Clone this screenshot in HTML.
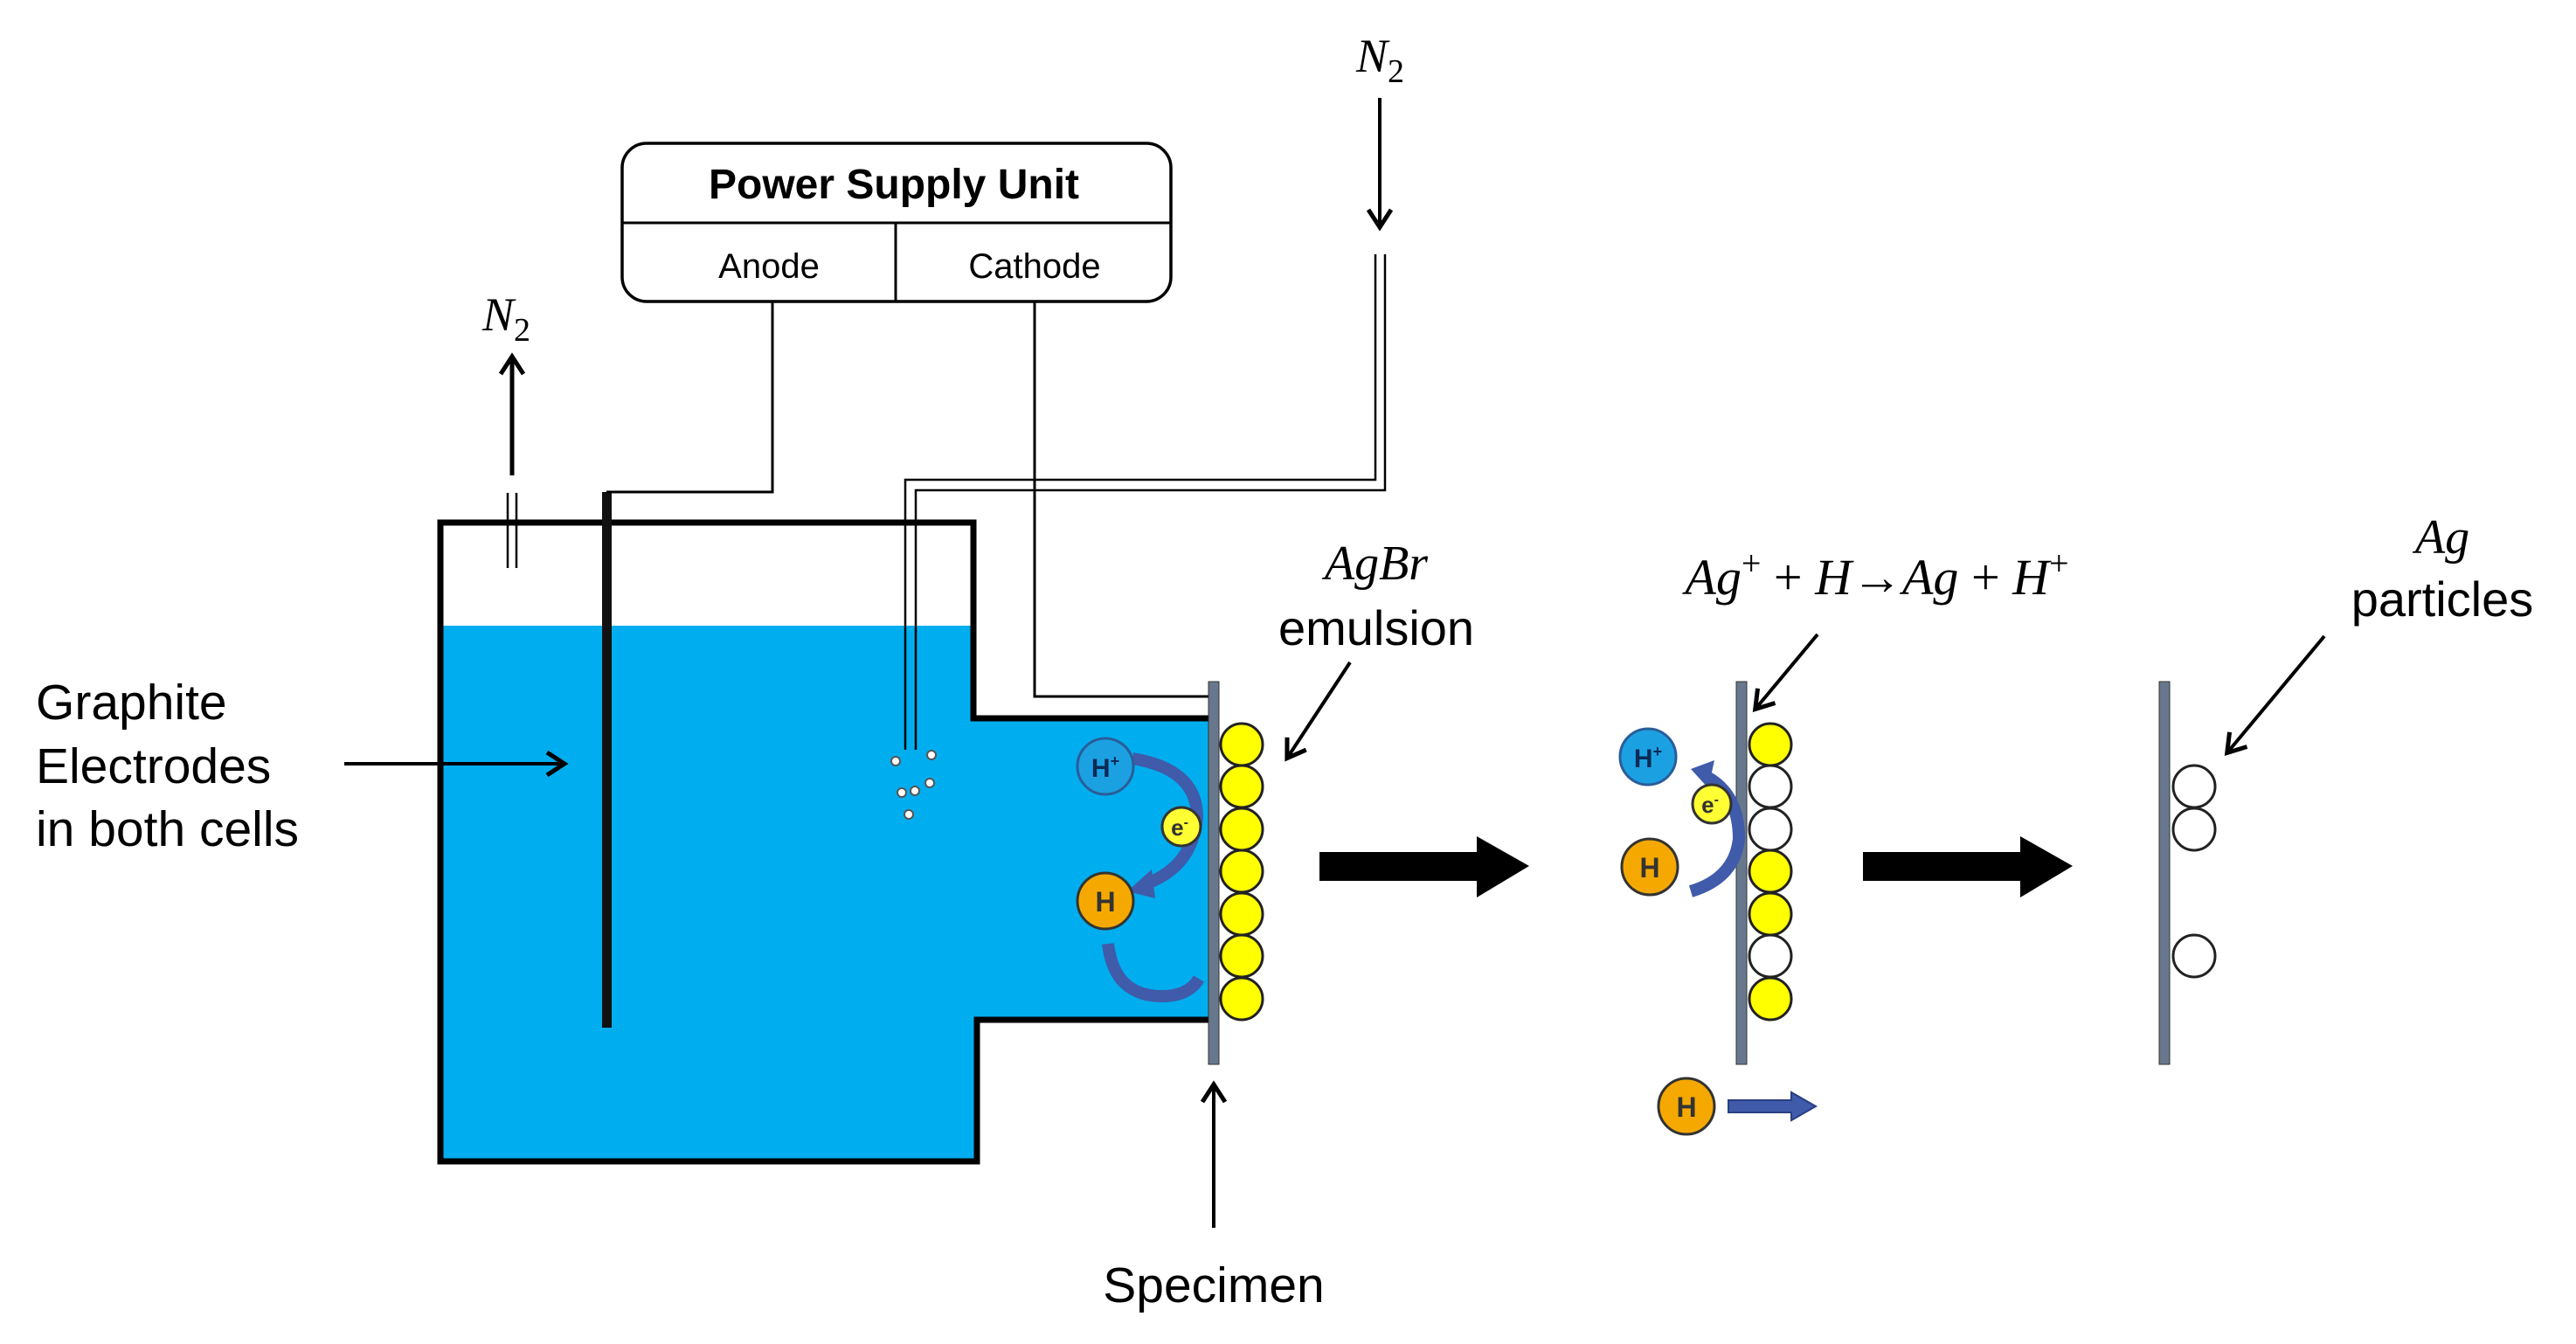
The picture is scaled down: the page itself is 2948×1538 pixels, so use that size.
<!DOCTYPE html>
<html><head><meta charset="utf-8"><style>
html,body{margin:0;padding:0;background:#fff;width:2948px;height:1538px;overflow:hidden}
svg{display:block}
.sans{font-family:"Liberation Sans",sans-serif}
.serif{font-family:"Liberation Serif",serif;font-style:italic}
</style></head><body>
<svg width="2948" height="1538" viewBox="0 0 2948 1538" xmlns="http://www.w3.org/2000/svg">
<defs>
<marker id="ab" markerWidth="30" markerHeight="30" refX="20" refY="15" orient="auto" markerUnits="userSpaceOnUse"><path d="M2,2 L22,15 L2,28" fill="none" stroke="#000" stroke-width="5"/></marker>
</defs>

<!-- water -->
<path d="M504,716 H1114 V822 H1385 V1167 H1118 V1329 H504 Z" fill="#00AEEF"/>
<!-- tank outline -->
<path d="M1385,822 H1114 V598 H504 V1329 H1118 V1167 H1385" fill="none" stroke="#000" stroke-width="7"/>

<!-- electrode -->
<rect x="689" y="563" width="11" height="613" fill="#111"/>
<!-- anode wire -->
<polyline points="694,563 884,563 884,345" fill="none" stroke="#000" stroke-width="3"/>
<!-- cathode wire -->
<polyline points="1184,345 1184,797 1385,797" fill="none" stroke="#000" stroke-width="3"/>

<!-- N2 inlet double tube -->
<polyline points="1574,291 1574,549 1036,549 1036,858" fill="none" stroke="#000" stroke-width="2.5"/>
<polyline points="1585,291 1585,561 1048,561 1048,858" fill="none" stroke="#000" stroke-width="2.5"/>
<line x1="1579" y1="112" x2="1579" y2="258" stroke="#000" stroke-width="4" marker-end="url(#ab)"/>
<text x="1552" y="82" class="serif" font-size="54">N<tspan font-size="38" dy="12" font-style="normal">2</tspan></text>

<!-- bubbles -->
<g fill="#fff" stroke="#555" stroke-width="2">
<circle cx="1025" cy="871" r="5"/><circle cx="1066" cy="864" r="5"/><circle cx="1032" cy="907" r="5"/><circle cx="1047" cy="905" r="5"/><circle cx="1064" cy="896" r="5"/><circle cx="1040" cy="932" r="5"/>
</g>

<!-- left N2 outlet -->
<line x1="581" y1="564" x2="581" y2="650" stroke="#000" stroke-width="2.5"/>
<line x1="591" y1="564" x2="591" y2="650" stroke="#000" stroke-width="2.5"/>
<line x1="586" y1="544" x2="586" y2="410" stroke="#000" stroke-width="5" marker-end="url(#ab)"/>
<text x="552" y="378" class="serif" font-size="54">N<tspan font-size="38" dy="12" font-style="normal">2</tspan></text>

<!-- PSU -->
<rect x="712" y="164" width="628" height="181" rx="28" fill="#fff" stroke="#000" stroke-width="3.5"/>
<line x1="712" y1="255" x2="1340" y2="255" stroke="#000" stroke-width="3"/>
<line x1="1025" y1="255" x2="1025" y2="345" stroke="#000" stroke-width="3"/>
<text x="1023" y="227" class="sans" font-size="48" font-weight="bold" text-anchor="middle">Power Supply Unit</text>
<text x="880" y="318" class="sans" font-size="40" text-anchor="middle">Anode</text>
<text x="1184" y="318" class="sans" font-size="40" text-anchor="middle">Cathode</text>

<!-- Graphite label -->
<text class="sans" font-size="57"><tspan x="41" y="823">Graphite</tspan><tspan x="41" y="896">Electrodes</tspan><tspan x="41" y="968">in both cells</tspan></text>
<line x1="394" y1="874" x2="644" y2="874" stroke="#000" stroke-width="4" marker-end="url(#ab)"/>

<!-- specimen plate 1 -->
<rect x="1383" y="780" width="12" height="438" fill="#68788C" stroke="#333" stroke-width="1"/>
<g stroke="#222" stroke-width="3" fill="#FFFF00">
<circle cx="1421" cy="852" r="24"/><circle cx="1421" cy="900" r="24"/><circle cx="1421" cy="949" r="24"/><circle cx="1421" cy="997" r="24"/><circle cx="1421" cy="1046" r="24"/><circle cx="1421" cy="1094" r="24"/><circle cx="1421" cy="1143" r="24"/>
</g>
<!-- curved arrows in cell -->
<g fill="none" stroke="#3F5BAA" stroke-width="14">
<path d="M1296,868 Q1370,880 1370,935 Q1365,990 1315,1010"/>
<path d="M1268,1080 Q1275,1140 1330,1140 Q1360,1140 1372,1120"/>
</g>
<path d="M1290,1020 L1318,995 L1322,1028 Z" fill="#3F5BAA"/>
<circle cx="1265" cy="877" r="32" fill="#1BA1E2" stroke="#2A5D9A" stroke-width="3"/>
<text x="1265" y="889" class="sans" font-size="30" text-anchor="middle" font-weight="bold" fill="#0b2a55">H<tspan font-size="18" dy="-12">+</tspan></text>
<circle cx="1352" cy="946" r="22" fill="#FFFF33" stroke="#333" stroke-width="3"/>
<text x="1350" y="956" class="sans" font-size="26" text-anchor="middle" font-weight="bold" fill="#333">e<tspan font-size="16" dy="-10">-</tspan></text>
<circle cx="1265" cy="1031" r="32" fill="#F5A900" stroke="#333" stroke-width="3"/>
<text x="1265" y="1043" class="sans" font-size="32" text-anchor="middle" font-weight="bold" fill="#333">H</text>

<!-- AgBr label -->
<text x="1575" y="663" class="serif" font-size="56" text-anchor="middle">AgBr</text>
<text x="1575" y="738" class="sans" font-size="56" text-anchor="middle">emulsion</text>
<line x1="1545" y1="758" x2="1474" y2="866" stroke="#000" stroke-width="4" marker-end="url(#ab)"/>

<!-- Specimen label -->
<line x1="1389" y1="1405" x2="1389" y2="1243" stroke="#000" stroke-width="4" marker-end="url(#ab)"/>
<text x="1389" y="1490" class="sans" font-size="57" text-anchor="middle">Specimen</text>

<!-- big arrows -->
<path d="M1510,975 H1690 V957 L1750,991 L1690,1027 V1008 H1510 Z" fill="#000"/>
<path d="M2132,975 H2312 V957 L2372,991 L2312,1027 V1008 H2132 Z" fill="#000"/>

<!-- middle plate -->
<rect x="1987" y="780" width="12" height="438" fill="#68788C" stroke="#333" stroke-width="1"/>
<g stroke="#222" stroke-width="3">
<circle cx="2026" cy="852" r="24" fill="#FFFF00"/><circle cx="2026" cy="900" r="24" fill="#fff"/><circle cx="2026" cy="949" r="24" fill="#fff"/><circle cx="2026" cy="997" r="24" fill="#FFFF00"/><circle cx="2026" cy="1046" r="24" fill="#FFFF00"/><circle cx="2026" cy="1094" r="24" fill="#fff"/><circle cx="2026" cy="1143" r="24" fill="#FFFF00"/>
</g>
<path d="M1935,1020 Q1985,1005 1990,960 Q1990,910 1955,890" fill="none" stroke="#3F5BAA" stroke-width="14"/>
<path d="M1935,880 L1962,870 L1955,902 Z" fill="#3F5BAA"/>
<circle cx="1886" cy="866" r="32" fill="#1BA1E2" stroke="#2A5D9A" stroke-width="3"/>
<text x="1886" y="878" class="sans" font-size="30" text-anchor="middle" font-weight="bold" fill="#0b2a55">H<tspan font-size="18" dy="-12">+</tspan></text>
<circle cx="1959" cy="920" r="22" fill="#FFFF33" stroke="#333" stroke-width="3"/>
<text x="1957" y="930" class="sans" font-size="26" text-anchor="middle" font-weight="bold" fill="#333">e<tspan font-size="16" dy="-10">-</tspan></text>
<circle cx="1888" cy="992" r="32" fill="#F5A900" stroke="#333" stroke-width="3"/>
<text x="1888" y="1004" class="sans" font-size="32" text-anchor="middle" font-weight="bold" fill="#333">H</text>
<circle cx="1930" cy="1266" r="32" fill="#F5A900" stroke="#333" stroke-width="3"/>
<text x="1930" y="1278" class="sans" font-size="32" text-anchor="middle" font-weight="bold" fill="#333">H</text>
<path d="M1978,1259 H2050 V1250 L2078,1266 L2050,1282 V1273 H1978 Z" fill="#3F5BAA" stroke="#2A3F80" stroke-width="2"/>

<text x="2148" y="680" class="serif" font-size="58" text-anchor="middle">Ag<tspan font-size="40" dy="-22" font-style="normal">+</tspan><tspan dy="22" font-style="normal"> + </tspan>H<tspan font-style="normal">→</tspan>Ag<tspan font-style="normal"> + </tspan>H<tspan font-size="40" dy="-22" font-style="normal">+</tspan></text>
<line x1="2080" y1="726" x2="2010" y2="810" stroke="#000" stroke-width="4" marker-end="url(#ab)"/>

<!-- right plate -->
<rect x="2471" y="780" width="12" height="438" fill="#68788C" stroke="#333" stroke-width="1"/>
<g stroke="#222" stroke-width="3" fill="#fff">
<circle cx="2511" cy="900" r="24"/><circle cx="2511" cy="949" r="24"/><circle cx="2511" cy="1094" r="24"/>
</g>
<text x="2795" y="633" class="serif" font-size="56" text-anchor="middle">Ag</text>
<text x="2795" y="705" class="sans" font-size="56" text-anchor="middle">particles</text>
<line x1="2660" y1="728" x2="2550" y2="860" stroke="#000" stroke-width="4" marker-end="url(#ab)"/>
</svg>
</body></html>
